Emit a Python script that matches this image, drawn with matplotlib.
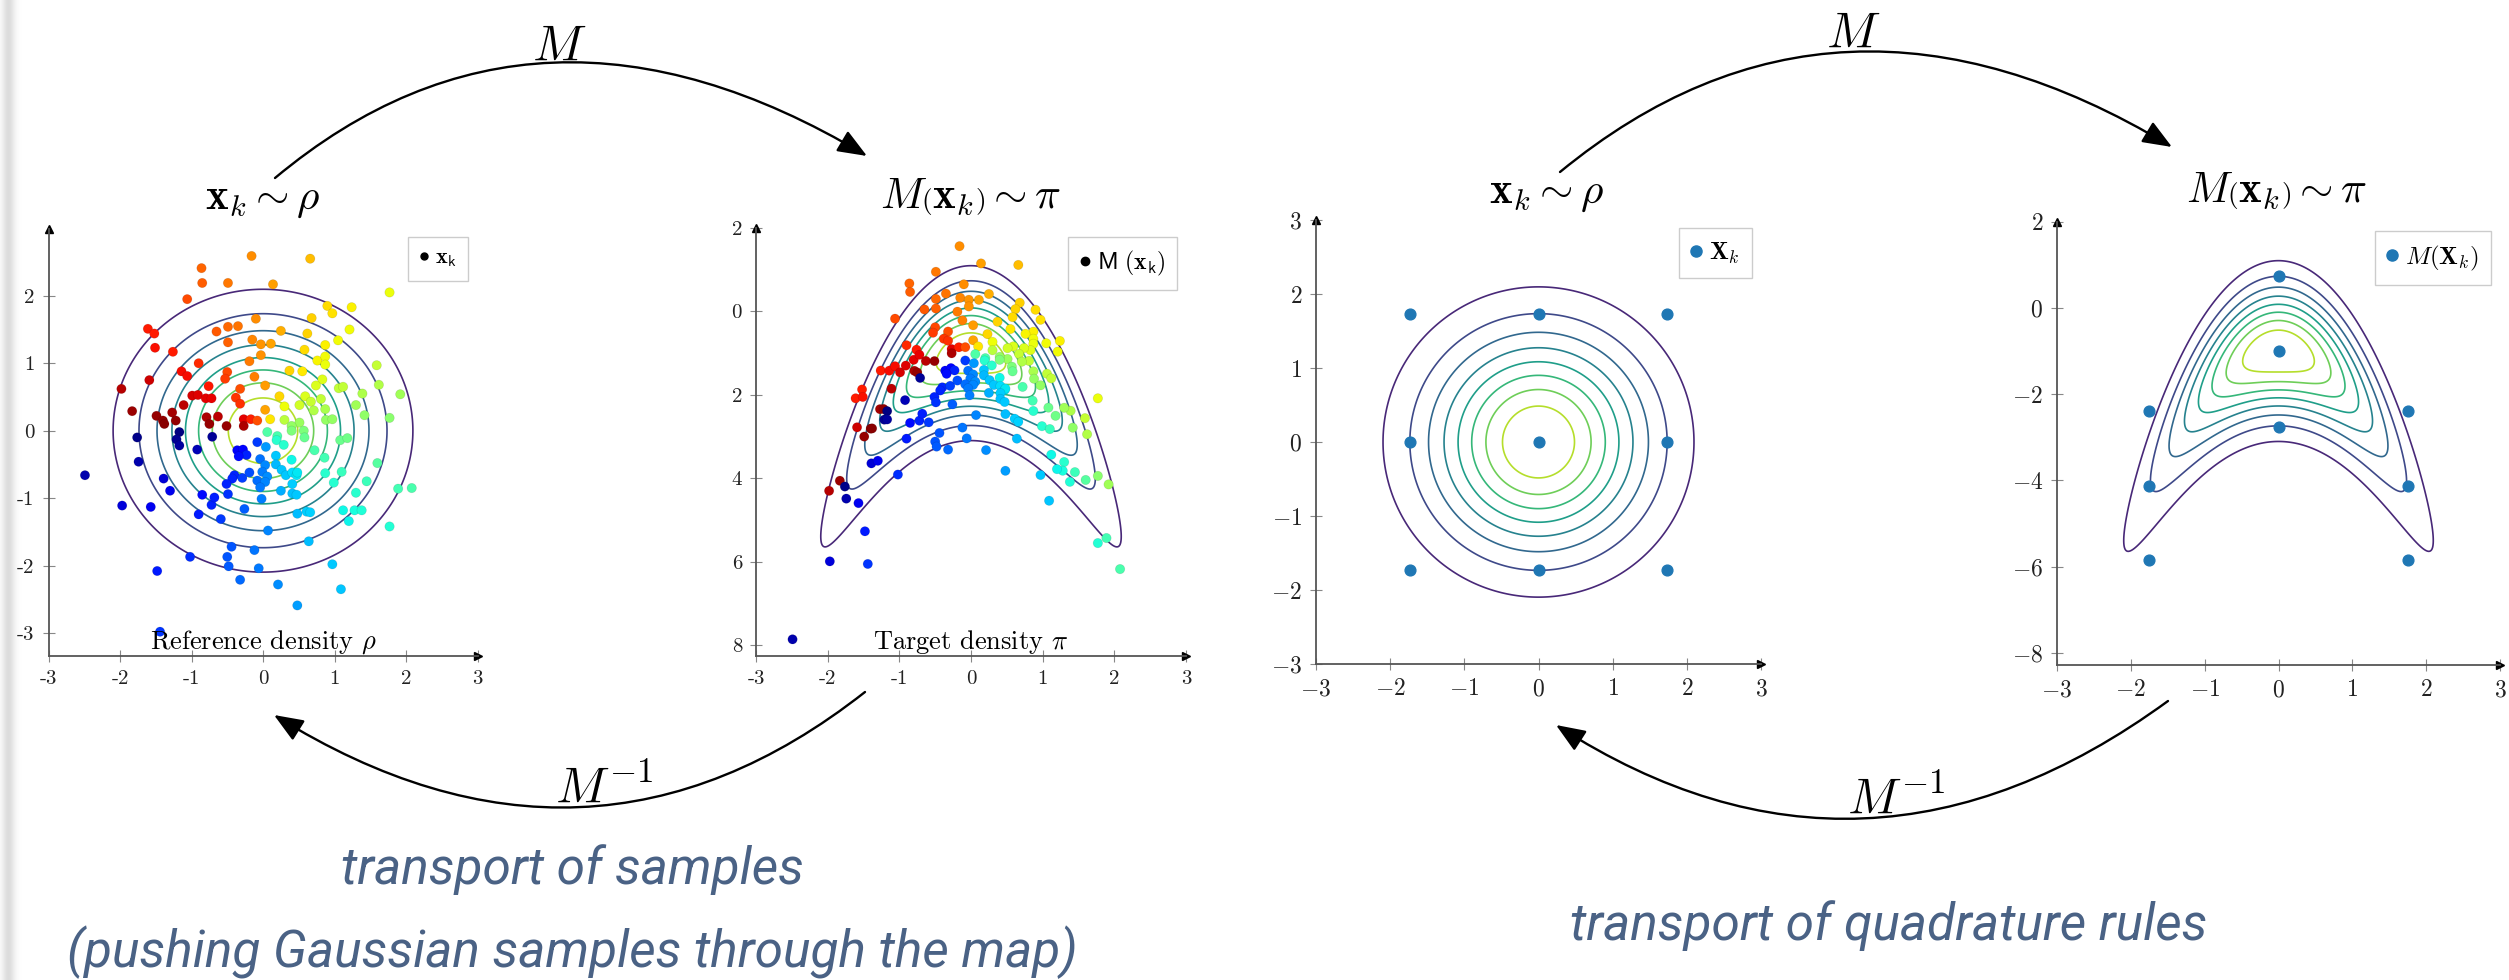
import numpy as np
import matplotlib
matplotlib.use("Agg")
import matplotlib.pyplot as plt
from matplotlib.patches import FancyArrowPatch
from matplotlib.path import Path
from matplotlib.lines import Line2D
from matplotlib.colors import Normalize
from matplotlib import font_manager

plt.rcParams['mathtext.fontset'] = 'cm'
plt.rcParams['font.family'] = ['cmr10', 'DejaVu Serif']
plt.rcParams['axes.unicode_minus'] = False

W, H = 2509, 980

# ---------------- data ----------------
# Gaussian reference samples x_k (left panel)
ref_x = [
    -0.16, 0.66, -0.86, -0.85, -0.49, 0.14, 1.77, -1.06, 0.90, 1.24,
    0.97, 0.68, -0.10, -1.61, -1.52, -0.49, -0.35, -0.65, 0.25, 1.21,
    0.62, -1.51, -0.49, -0.15, -0.03, 0.11, 0.87, 1.05, 0.58, -1.26,
    -0.03, -0.90, -0.19, 0.76, 0.87, 0.87, 1.59, -1.14, -1.06, -0.50,
    -0.53, -0.12, 0.37, 0.55, 0.83, -1.98, -1.59, -0.76, -0.32, 0.03,
    0.74, 1.06, 1.12, 1.62, 1.92, -0.99, -0.91, -0.80, -0.72, -0.38,
    -0.32, -1.11, 0.23, 0.59, 0.67, 0.81, 1.39, -1.83, 0.03, 0.30,
    0.51, 0.71, 0.87, 1.30, -1.49, -1.40, -1.27, -1.38, -1.22, -0.79,
    -0.63, -0.75, -0.51, -0.27, -0.17, -0.08, -0.27, 0.10, 0.30, 0.51,
    0.88, 0.97, 1.42, 1.77, 0.40, 0.40, 0.57, 0.06, -1.17, -1.76,
    -1.21, -1.17, -0.71, -0.92, 0.20, 0.19, 0.29, 0.58, -0.08, 0.04,
    -0.36, -0.28, -0.23, -0.34, 0.18, -0.04, 0.40, 0.72, 1.08, 1.18,
    0.86, -1.74, 0.03, 0.18, 1.60, -2.49, -0.40, -0.43, -0.29, -0.19,
    -0.01, 0.06, 0.26, 0.32, 0.41, 0.47, 0.48, -1.39, -0.51, -0.08,
    0.03, -0.04, 0.41, 0.41, 0.47, 0.87, 0.99, 1.10, 1.45, -1.30,
    -0.85, -0.49, 0.25, 1.30, 1.89, 2.08, -1.97, -1.57, -0.72, -0.68,
    -0.02, 0.48, 0.61, 0.66, 1.12, 1.28, 1.38, -0.26, -0.90, -0.59,
    1.20, 1.77, 0.07, 0.64, -0.44, -0.12, -1.02, -0.50, -0.48, -0.06,
    -1.48, 0.97, -0.32, 0.21, 1.09, 0.48, -1.44]
ref_y = [
    2.59, 2.55, 2.41, 2.19, 2.19, 2.17, 2.05, 1.95, 1.85, 1.83,
    1.74, 1.67, 1.66, 1.51, 1.44, 1.54, 1.55, 1.47, 1.48, 1.50,
    1.44, 1.23, 1.31, 1.35, 1.28, 1.29, 1.27, 1.34, 1.20, 1.17,
    1.12, 1.00, 1.03, 1.04, 1.10, 0.98, 0.97, 0.88, 0.81, 0.87,
    0.77, 0.80, 0.89, 0.88, 0.76, 0.62, 0.75, 0.66, 0.62, 0.67,
    0.67, 0.63, 0.65, 0.68, 0.54, 0.52, 0.53, 0.48, 0.48, 0.49,
    0.40, 0.38, 0.51, 0.51, 0.43, 0.47, 0.55, 0.29, 0.31, 0.36,
    0.38, 0.30, 0.32, 0.38, 0.22, 0.15, 0.27, 0.10, 0.15, 0.20,
    0.21, 0.10, 0.07, 0.17, 0.17, 0.15, 0.07, 0.17, 0.16, 0.12,
    0.16, 0.17, 0.23, 0.19, 0.07, 0.00, 0.00, -0.02, -0.02, -0.10,
    -0.13, -0.22, -0.09, -0.28, -0.08, -0.14, -0.21, -0.10, -0.17, -0.24,
    -0.29, -0.28, -0.36, -0.38, -0.37, -0.42, -0.43, -0.29, -0.14, -0.11,
    -0.40, -0.46, -0.51, -0.50, -0.48, -0.66, -0.66, -0.71, -0.70, -0.62,
    -0.61, -0.68, -0.58, -0.66, -0.62, -0.66, -0.62, -0.71, -0.79, -0.74,
    -0.76, -0.84, -0.79, -0.93, -0.95, -0.63, -0.77, -0.61, -0.75, -0.89,
    -0.95, -0.94, -0.89, -0.92, -0.86, -0.85, -1.11, -1.13, -1.10, -0.99,
    -1.01, -1.23, -1.20, -1.21, -1.18, -1.18, -1.18, -1.16, -1.24, -1.31,
    -1.34, -1.42, -1.48, -1.64, -1.72, -1.77, -1.87, -1.87, -2.01, -2.04,
    -2.08, -1.98, -2.21, -2.28, -2.35, -2.59, -2.98]

# Quadrature nodes X_k (reference) and M(X_k) (target)
quad_x = [-1.73, -1.73, -1.73, 0.0, 0.0, 0.0, 1.73, 1.73, 1.73]
quad_y = [1.73, 0.0, -1.73, 1.73, 0.0, -1.73, 1.73, 0.0, -1.73]
mquad_x = [-1.75, -1.75, -1.75, 0.0, 0.0, 0.0, 1.75, 1.75, 1.75]
mquad_y = [-2.38, -4.12, -5.85, 0.73, -1.01, -2.75, -2.38, -4.12, -5.85]

# Transport map M(x1, x2) = (x1, x2 - x1^2 - 1) and densities
def transport_map(x1, x2):
    x1 = np.asarray(x1); x2 = np.asarray(x2)
    return x1, x2 - x1 ** 2 - 1.0

def rho(x1, x2):
    return np.exp(-(x1 ** 2 + x2 ** 2) / 2) / (2 * np.pi)

def target(y1, y2):
    return rho(y1, y2 + y1 ** 2 + 1.0)

tick_pm = [-3, -2, -1, 0, 1, 2, 3]
p1_ytick = [-3, -2, -1, 0, 1, 2]
p2_ytick = [-8, -6, -4, -2, 0, 2]
p2_ylabels = ['8', '6', '4', '2', '0', '2']
p4_ytick = [-8, -6, -4, -2, 0, 2]

# ---------------- figure ----------------
fig = plt.figure(figsize=(W / 100, H / 100), dpi=100)

def fx(x):
    return x / W

def fy(y):
    return 1 - y / H

# page shadow at left edge
sh = fig.add_axes([0, 0, 30 / W, 1], zorder=-5)
sh.axis('off')
prof = np.linspace(0, 1, 60)
alpha = 0.30 * np.exp(-((prof - 0.28) / 0.22) ** 2)
img = np.zeros((2, 60, 4))
img[..., :3] = 0.55
img[..., 3] = alpha
sh.imshow(img, aspect='auto', extent=[0, 1, 0, 1])

def make_ax(x0, x1, ytop, ybot, ylim):
    ax = fig.add_axes([fx(x0), fy(ybot), (x1 - x0) / W, (ybot - ytop) / H])
    ax.set_xlim(-3, 3)
    ax.set_ylim(*ylim)
    ax.patch.set_alpha(0)
    for s in ('top', 'right'):
        ax.spines[s].set_visible(False)
    for s in ('left', 'bottom'):
        ax.spines[s].set_color('#555555')
        ax.spines[s].set_linewidth(1.3)
    ax.plot([1], [0], marker='>', color='k', ms=6, transform=ax.transAxes,
            clip_on=False)
    ax.plot([0], [1], marker='^', color='k', ms=6, transform=ax.transAxes,
            clip_on=False)
    ax.tick_params(direction='inout', length=8, width=0.8, color='#888888',
                   labelcolor='#222222')
    return ax

levels_all = np.linspace(0, 1 / (2 * np.pi), 10)
levels = levels_all[1:-1]
norm = Normalize(0, levels_all[-1])

# ---- panel 1: samples from reference ----
ax1 = make_ax(48.5, 477.5, 229, 656, (-3.34, 2.99))
gx, gy = np.meshgrid(np.linspace(-3, 3, 500), np.linspace(-3.4, 3.0, 500))
ax1.contour(gx, gy, rho(gx, gy), levels=levels, cmap='viridis', norm=norm,
            linewidths=1.2, zorder=1)
rx = np.array(ref_x); ry = np.array(ref_y)
cols = plt.cm.jet((np.arctan2(ry, rx) + np.pi) / (2 * np.pi))
ax1.scatter(rx, ry, s=46, c=cols, edgecolors=(0, 0, 0, 0.12), linewidths=0.5,
            zorder=3)
ax1.set_xticks(tick_pm, [str(t) for t in tick_pm])
ax1.set_yticks(p1_ytick, [str(t) for t in p1_ytick])
ax1.tick_params(labelsize=15, pad=6)
ax1.text(0.5, 0.032, r'Reference density $\rho$', transform=ax1.transAxes,
         ha='center', va='center', fontsize=19)
h1 = Line2D([], [], marker='o', ls='none', color='k', ms=5)
ax1.legend([h1], [r'$\mathbf{x}_\mathsf{k}$'], loc='upper right',
           bbox_to_anchor=(fx(468), fy(237)), bbox_transform=fig.transFigure,
           borderaxespad=0, fancybox=False, edgecolor='#cccccc',
           handlelength=0.4, handletextpad=0.3, borderpad=0.5, fontsize=16,
           framealpha=1)

# ---- panel 2: pushed samples ----
ax2 = make_ax(756, 1186, 228, 656, (-8.26, 2.0))
tx, ty = np.meshgrid(np.linspace(-3, 3, 600), np.linspace(-8.3, 2.0, 700))
ax2.contour(tx, ty, target(tx, ty), levels=levels, cmap='viridis', norm=norm,
            linewidths=1.2, zorder=1)
mx, my = transport_map(rx, ry)
ax2.scatter(mx, my, s=46, c=cols, edgecolors=(0, 0, 0, 0.12), linewidths=0.5,
            zorder=3)
ax2.set_xticks(tick_pm, [str(t) for t in tick_pm])
ax2.set_yticks(p2_ytick, p2_ylabels)
ax2.tick_params(labelsize=15, pad=6)
ax2.text(0.5, 0.032, r'Target density $\pi$', transform=ax2.transAxes,
         ha='center', va='center', fontsize=19)
h2 = Line2D([], [], marker='o', ls='none', color='k', ms=6)
ax2.legend([h2], [r'$\mathsf{M}\ (\mathbf{x}_\mathsf{k})$'], loc='upper right',
           bbox_to_anchor=(fx(1177), fy(237)), bbox_transform=fig.transFigure,
           borderaxespad=0, fancybox=False, edgecolor='#cccccc',
           handlelength=0.4, handletextpad=0.3, borderpad=0.5, fontsize=17,
           framealpha=1)

# ---- panel 3: quadrature nodes in reference ----
ax3 = make_ax(1316, 1761, 220, 664, (-3, 3))
gx3, gy3 = np.meshgrid(np.linspace(-3, 3, 500), np.linspace(-3, 3, 500))
ax3.contour(gx3, gy3, rho(gx3, gy3), levels=levels, cmap='viridis', norm=norm,
            linewidths=1.2, zorder=1)
ax3.scatter(quad_x, quad_y, s=60, color='#1f77b4', zorder=3)
ax3.set_xticks(tick_pm, ['$%d$' % t for t in tick_pm])
ax3.set_yticks(tick_pm, ['$%d$' % t for t in tick_pm])
ax3.tick_params(labelsize=17, pad=6)
h3 = Line2D([], [], marker='o', ls='none', color='#1f77b4', ms=8)
ax3.legend([h3], [r'$\mathbf{X}_k$'], loc='upper right',
           bbox_to_anchor=(fx(1752), fy(228)), bbox_transform=fig.transFigure,
           borderaxespad=0, fancybox=False, edgecolor='#cccccc',
           handlelength=0.4, handletextpad=0.3, borderpad=0.5, fontsize=18,
           framealpha=1)

# ---- panel 4: quadrature nodes in target ----
ax4 = make_ax(2057, 2500, 221.7, 665, (-8.28, 2.0))
ax4.contour(tx, ty, target(tx, ty), levels=levels, cmap='viridis', norm=norm,
            linewidths=1.2, zorder=1)
ax4.scatter(mquad_x, mquad_y, s=60, color='#1f77b4', zorder=3)
ax4.set_xticks(tick_pm, ['$%d$' % t for t in tick_pm])
ax4.set_yticks(p4_ytick, ['$%d$' % t for t in p4_ytick])
ax4.tick_params(labelsize=17, pad=6)
h4 = Line2D([], [], marker='o', ls='none', color='#1f77b4', ms=8)
ax4.legend([h4], [r'$M(\mathbf{X}_k)$'], loc='upper right',
           bbox_to_anchor=(fx(2491), fy(231)), bbox_transform=fig.transFigure,
           borderaxespad=0, fancybox=False, edgecolor='#cccccc',
           handlelength=0.4, handletextpad=0.3, borderpad=0.5, fontsize=18,
           framealpha=1)

# ---------------- headings ----------------
head_ref = r'$\mathbf{x}_k \sim \rho$'
head_tar = r'$M\left(\mathbf{x}_k\right) \sim \pi$'
fig.text(fx(263), fy(209), head_ref, ha='center', va='baseline', fontsize=31)
fig.text(fx(971), fy(209), head_tar, ha='center', va='baseline', fontsize=31)
fig.text(fx(1547), fy(203), head_ref, ha='center', va='baseline', fontsize=31)
fig.text(fx(2277), fy(203), head_tar, ha='center', va='baseline', fontsize=31)

# ---------------- curved arrows ----------------
def bez_arrow(S, C, E):
    verts = [(fx(S[0]), fy(S[1])), (fx(C[0]), fy(C[1])), (fx(E[0]), fy(E[1]))]
    path = Path(verts, [Path.MOVETO, Path.CURVE3, Path.CURVE3])
    a = FancyArrowPatch(path=path,
                        arrowstyle='-|>,head_length=0.75,head_width=0.3',
                        mutation_scale=24, lw=1.7, color='black',
                        transform=fig.transFigure)
    fig.add_artist(a)

bez_arrow((275, 178), (537, -41), (867, 156))
bez_arrow((865, 692), (588, 910), (274, 715))
bez_arrow((1560, 172), (1836, -55), (2172, 147))
bez_arrow((2168, 701), (1864, 923), (1556, 725))

fig.text(fx(559), fy(60), r'$M$', ha='center', va='baseline', fontsize=36)
fig.text(fx(1853), fy(47), r'$M$', ha='center', va='baseline', fontsize=36)
fig.text(fx(555), fy(802), r'$M^{-1}$', ha='left', va='baseline', fontsize=36)
fig.text(fx(1847), fy(813), r'$M^{-1}$', ha='left', va='baseline', fontsize=36)

# ---------------- captions ----------------
avail = {f.name for f in font_manager.fontManager.ttflist}
if 'Liberation Sans Narrow' in avail:
    cap_font, cap_size, cap_w = 'Liberation Sans Narrow', 38, 'normal'
elif 'Roboto' in avail:
    cap_font, cap_size, cap_w = 'Roboto', 37, 'normal'
else:
    cap_font, cap_size, cap_w = 'Open Sans', 36, 'normal'
cap_col = '#4a6285'
cap_kw = dict(ha='center', va='center', fontsize=cap_size, family=cap_font,
              style='italic', weight=cap_w, color=cap_col)
fig.text(fx(572), fy(870), 'transport of samples', **cap_kw)
fig.text(fx(572), fy(952), '(pushing Gaussian samples through the map)', **cap_kw)
fig.text(fx(1889), fy(926), 'transport of quadrature rules', **cap_kw)

fig.savefig('out.png', dpi=100)
